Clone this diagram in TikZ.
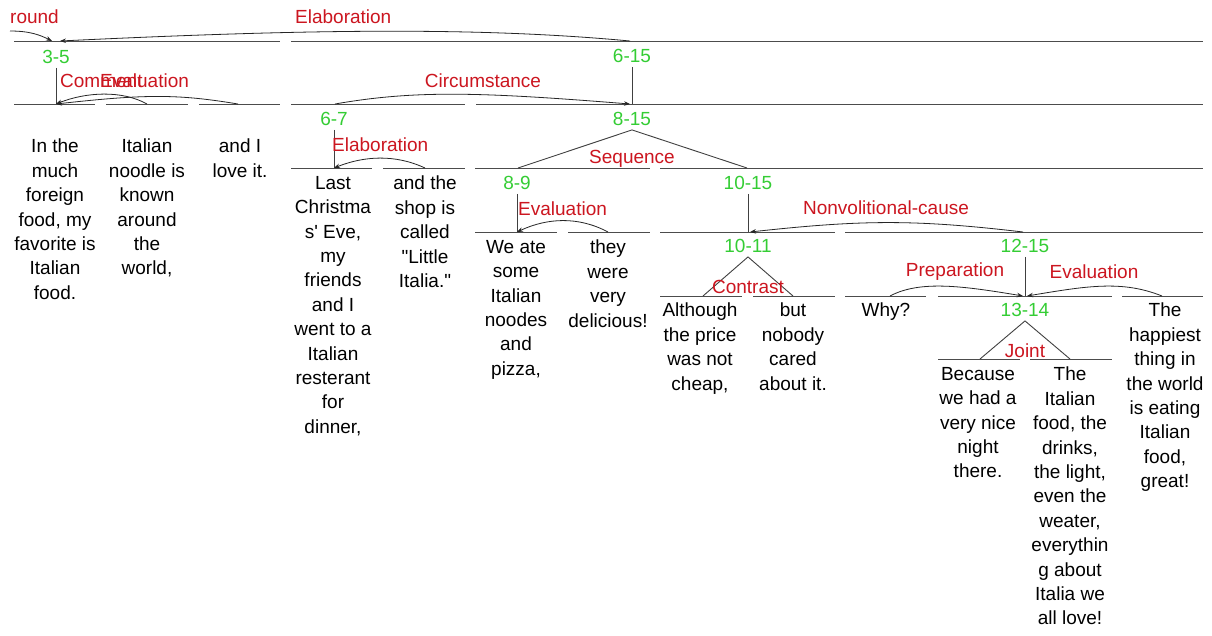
\documentclass[tikz,border=0pt]{standalone}
\usepackage{fontspec}
\setmainfont{Liberation Sans}
\usetikzlibrary{arrows.meta}
\definecolor{relred}{RGB}{204,22,32}
\definecolor{spangreen}{RGB}{52,205,52}

\begin{document}
\begin{tikzpicture}[x=1pt,y=1pt,
    seg/.style={draw=black!70,line width=0.9pt},
    stem/.style={draw=black!75,line width=0.9pt},
    relarc/.style={draw=black!85,line width=0.8pt,-{Stealth[length=6pt,width=4.5pt]}},
    span/.style={text=spangreen,font=\fontsize{19}{21}\selectfont,inner xsep=0pt,inner ysep=4pt},
    rel/.style={text=relred,font=\fontsize{19}{21}\selectfont,inner sep=0pt},
    edu/.style={anchor=north,align=center,font=\fontsize{19}{24.4}\selectfont,inner sep=0pt}]
    \useasboundingbox[fill=white] (0,0) rectangle (1212,-635);
    % Segment lines
    \foreach \a/\b in {14/280,291/1203} \draw[seg] (\a,-41) -- (\b,-41);
    \foreach \a/\b in {14/95,106/188,199/280,291/465,476/1203} \draw[seg] (\a,-104) -- (\b,-104);
    \foreach \a/\b in {291/372,383/465,475/650,660/1203} \draw[seg] (\a,-168) -- (\b,-168);
    \foreach \a/\b in {475/557,568/650,660/835,845/1203} \draw[seg] (\a,-232) -- (\b,-232);
    \foreach \a/\b in {660/742,753/835,845/926,938/1112,1122/1203} \draw[seg] (\a,-296) -- (\b,-296);
    \foreach \a/\b in {938/1020,1030/1112} \draw[seg] (\a,-359) -- (\b,-359);
    % Attachment points
    \coordinate (bg) at (10,-31);
    \coordinate (t35) at (56,-41);
    \coordinate (t615) at (630,-41);
    \coordinate (t3) at (56,-104);
    \coordinate (t4) at (147,-104);
    \coordinate (t5) at (238,-104);
    \coordinate (t67) at (335,-104);
    \coordinate (t815) at (632,-104);
    \coordinate (t6) at (334,-168);
    \coordinate (t7) at (425,-168);
    \coordinate (t89) at (518,-168);
    \coordinate (t1015) at (747,-168);
    \coordinate (t8) at (517,-232);
    \coordinate (t9) at (608,-232);
    \coordinate (t1011) at (748,-232);
    \coordinate (t1215) at (1023,-232);
    \coordinate (t10) at (703,-296);
    \coordinate (t11) at (793,-296);
    \coordinate (t12) at (890,-296);
    \coordinate (t1314) at (1025,-296);
    \coordinate (t15) at (1162,-296);
    \coordinate (t13) at (980,-359);
    \coordinate (t14) at (1070,-359);
    % Span labels
    \node[span] (s35) at (56,-57) {3-5};
    \node[span] (s615) at (632,-56) {6-15};
    \node[span] (s67) at (334,-119) {6-7};
    \node[span] (s815) at (632,-119) {8-15};
    \node[span] (s89) at (517,-183) {8-9};
    \node[span] (s1015) at (748,-183) {10-15};
    \node[span] (s1011) at (748,-246) {10-11};
    \node[span] (s1215) at (1025,-246) {12-15};
    \node[span] (s1314) at (1025,-310) {13-14};
    % Stems
    \draw[stem] (s35.south) -- (t3);
    \draw[stem] (s615.south) -- (t815);
    \draw[stem] (s67.south) -- (t6);
    \draw[stem] (s89.south) -- (t8);
    \draw[stem] (s1015.south) -- (t1011);
    \draw[stem] (s1215.south) -- (t1314);
    % Multinuclear roofs
    \draw[stem] (t89) -- (s815.south) -- (t1015);
    \draw[stem] (t10) -- (s1011.south) -- (t11);
    \draw[stem] (t13) -- (s1314.south) -- (t14);
    % Relation arcs
    \draw[relarc] (bg) .. controls +(20,0) and +(-12,6) .. ([xshift=-4pt]t35);
    \draw[relarc] (t615) .. controls +(-150,14) and +(250,12) .. ([xshift=4pt]t35);
    \draw[relarc] (t4) .. controls +(-25,14) and +(30,12) .. (t3);
    \draw[relarc] (t5) .. controls +(-60,10) and +(90,10) .. (t3);
    \draw[relarc] (t67) .. controls +(80,14) and +(-150,12) .. ([xshift=-2pt]t815);
    \draw[relarc] (t7) .. controls +(-30,14) and +(30,12) .. (t6);
    \draw[relarc] (t9) .. controls +(-30,16) and +(30,14) .. (t8);
    \draw[relarc] (t1215) .. controls +(-110,13) and +(110,12) .. ([xshift=2pt]t1011);
    \draw[relarc] (t12) .. controls +(30,16) and +(-60,10) .. ([xshift=-2pt]t1314);
    \draw[relarc] (t15) .. controls +(-40,16) and +(60,10) .. ([xshift=2pt]t1314);
    % Relation names
    \node[rel,anchor=west] (rbg) at (10,-17) {round};
    \node[rel,anchor=west] (relab) at (295,-17) {Elaboration};
    \node[rel,anchor=west] (rcom) at (60,-81) {Comment};
    \node[rel,anchor=west] (reva) at (100,-81) {Evaluation};
    \node[rel] (rcirc) at (483,-81) {Circumstance};
    \node[rel,anchor=west] (relab2) at (332,-145) {Elaboration};
    \node[rel] (rseq) at (632,-159) {Sequence};
    \node[rel,anchor=west] (reva2) at (518,-209) {Evaluation};
    \node[rel] (rnvc) at (886,-208) {Nonvolitional-cause};
    \node[rel] (rcon) at (748,-287) {Contrast};
    \node[rel] (rprep) at (955,-272) {Preparation};
    \node[rel] (reva3) at (1094,-272) {Evaluation};
    \node[rel] (rjoint) at (1025,-351) {Joint};
    % Text segments
    \node[edu] (e3) at (55,-139) {In the\\much\\foreign\\food, my\\favorite is\\Italian\\food.};
    \node[edu] (e4) at (147,-139) {Italian\\noodle is\\known\\around\\the\\world,};
    \node[edu] (e5) at (240,-139) {and I\\love it.};
    \node[edu] (e6) at (333,-176) {Last\\Christma\\s\textquotesingle{} Eve,\\my\\friends\\and I\\went to a\\Italian\\resterant\\for\\dinner,};
    \node[edu] (e7) at (425,-176) {and the\\shop is\\called\\\textquotedbl Little\\Italia.\textquotedbl};
    \node[edu] (e8) at (516,-240) {We ate\\some\\Italian\\noodes\\and\\pizza,};
    \node[edu] (e9) at (608,-240) {they\\were\\very\\delicious!};
    \node[edu] (e10) at (700,-303) {Although\\the price\\was not\\cheap,};
    \node[edu] (e11) at (793,-303) {but\\nobody\\cared\\about it.};
    \node[edu] (e12) at (886,-303) {Why?};
    \node[edu] (e13) at (978,-367) {Because\\we had a\\very nice\\night\\there.};
    \node[edu] (e14) at (1070,-367) {The\\Italian\\food, the\\drinks,\\the light,\\even the\\weater,\\everythin\\g about\\Italia we\\all love!};
    \node[edu] (e15) at (1165,-303) {The\\happiest\\thing in\\the world\\is eating\\Italian\\food,\\great!};
\end{tikzpicture}
\end{document}
